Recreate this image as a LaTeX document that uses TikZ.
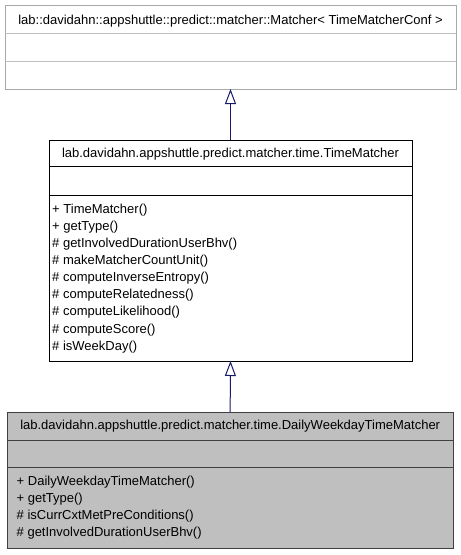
\documentclass[tikz,border=0pt]{standalone}
\usepackage{fontspec}
\setmainfont{Liberation Sans}
\usetikzlibrary{arrows.meta}
\definecolor{edgeblue}{HTML}{191970}
\definecolor{lightborder}{HTML}{A8A8A8}
\definecolor{lightdiv}{HTML}{C0C0C0}
\definecolor{darkborder}{HTML}{404040}
\definecolor{hilite}{HTML}{BFBFBF}
\begin{document}
\begin{tikzpicture}[x=1pt,y=-1pt,
  font=\fontsize{13}{15}\selectfont,
  classbox/.style={draw, inner sep=0pt, outer sep=0pt, anchor=north west, line width=1pt},
  member/.style={inner sep=0pt, anchor=base west},
  title/.style={inner sep=0pt, anchor=base},
  inherit/.style={edgeblue, line width=1pt, -{Triangle[open, length=15pt, width=11pt]}}]
\useasboundingbox (0,0) rectangle (461,555);
% top (base) class
\node[classbox, draw=lightborder, minimum width=451pt, minimum height=84pt] (base) at (5,5) {};
\draw[lightdiv, line width=1pt] (base.west |- 0,33) -- (base.east |- 0,33);
\draw[lightdiv, line width=1pt] (base.west |- 0,61) -- (base.east |- 0,61);
\node[title] (baseT) at (230.5,24.5) {lab::davidahn::appshuttle::predict::matcher::Matcher< TimeMatcherConf >};
% middle class
\node[classbox, draw=black, minimum width=363pt, minimum height=221pt] (mid) at (49,140) {};
\draw[line width=1pt] (mid.west |- 0,166.7) -- (mid.east |- 0,166.7);
\draw[line width=1pt] (mid.west |- 0,195.3) -- (mid.east |- 0,195.3);
\node[title] (midT) at (230.5,157.5) {lab.davidahn.appshuttle.predict.matcher.time.TimeMatcher};
\node[member] (m1) at (52,213.5) {+ TimeMatcher()};
\node[member] (m2) at (52,230.6) {+ getType()};
\node[member] (m3) at (52,247.6) {\# getInvolvedDurationUserBhv()};
\node[member] (m4) at (52,264.7) {\# makeMatcherCountUnit()};
\node[member] (m5) at (52,281.8) {\# computeInverseEntropy()};
\node[member] (m6) at (52,298.8) {\# computeRelatedness()};
\node[member] (m7) at (52,315.9) {\# computeLikelihood()};
\node[member] (m8) at (52,333.0) {\# computeScore()};
\node[member] (m9) at (52,350.0) {\# isWeekDay()};
% bottom class
\node[classbox, draw=darkborder, fill=hilite, minimum width=445.7pt, minimum height=136.3pt] (leaf) at (7.3,412) {};
\draw[darkborder, line width=1pt] (leaf.west |- 0,440) -- (leaf.east |- 0,440);
\draw[darkborder, line width=1pt] (leaf.west |- 0,467.3) -- (leaf.east |- 0,467.3);
\node[title] (leafT) at (230.2,429.5) {lab.davidahn.appshuttle.predict.matcher.time.DailyWeekdayTimeMatcher};
\node[member] (l1) at (16.5,485) {+ DailyWeekdayTimeMatcher()};
\node[member] (l2) at (16.5,502.1) {+ getType()};
\node[member] (l3) at (16.5,519.2) {\# isCurrCxtMetPreConditions()};
\node[member] (l4) at (16.5,536.3) {\# getInvolvedDurationUserBhv()};
% inheritance
\draw[inherit] (mid.north) -- (base.south);
\draw[inherit] (leaf.north) -- (mid.south);
\end{tikzpicture}
\end{document}
